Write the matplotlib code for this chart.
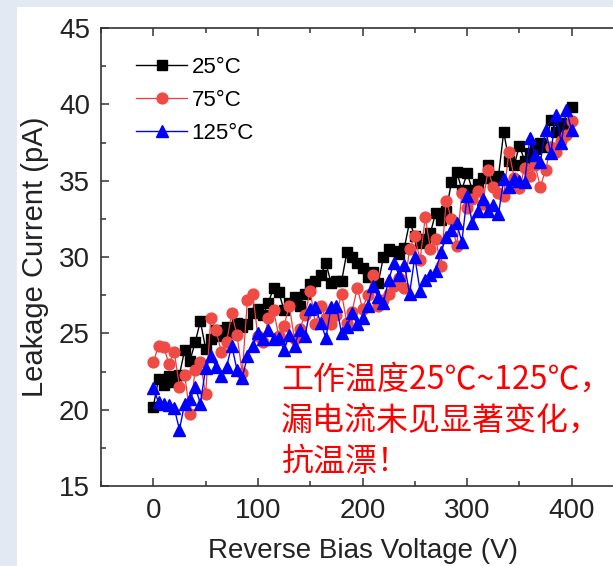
import numpy as np
import matplotlib
matplotlib.use("Agg")
import matplotlib.pyplot as plt
from matplotlib.patches import Rectangle
from matplotlib.ticker import MultipleLocator

# Reverse bias sweep (V), 5 V steps
voltage = list(range(0, 405, 5))

# Leakage current (pA) at each temperature
current_25c = [
    20.2, 22.0, 21.6, 22.2, 21.8, 22.3, 23.9, 23.2, 24.4, 25.8,
    24.0, 24.6, 25.2, 24.8, 25.4, 25.0, 25.7, 25.4, 25.6, 26.3,
    26.6, 26.2, 27.0, 28.0, 27.7, 26.5, 27.0, 27.4, 26.8, 27.6,
    28.2, 28.4, 28.8, 29.6, 28.3, 28.4, 28.4, 30.3, 30.0, 29.6,
    29.3, 28.7, 29.0, 28.3, 30.0, 30.5, 30.4, 30.2, 30.6, 32.3,
    31.4, 30.9, 31.2, 31.6, 32.9, 32.4, 33.0, 34.9, 35.6, 34.4,
    35.5, 34.4, 34.8, 35.2, 36.0, 35.0, 35.3, 38.2, 36.3, 36.0,
    37.3, 36.3, 36.8, 37.1, 37.5, 37.2, 39.0, 38.2, 38.8, 38.4,
    39.8,
]
current_75c = [
    23.1, 24.2, 24.1, 23.0, 23.8, 21.5, 22.3, 19.7, 22.6, 23.1,
    21.0, 26.0, 25.2, 23.8, 24.4, 26.3, 24.9, 22.4, 27.2, 27.6,
    24.8, 24.4, 26.0, 26.5, 24.8, 25.5, 26.8, 24.6, 25.3, 26.2,
    27.8, 25.6, 26.8, 26.0, 25.6, 26.2, 27.6, 25.7, 26.4, 28.0,
    26.6, 27.5, 28.8, 26.8, 27.2, 27.6, 28.1, 28.6, 28.0, 30.5,
    31.4, 29.8, 32.6, 30.5, 31.2, 29.4, 33.7, 32.5, 30.7, 34.2,
    33.2, 33.8, 34.3, 33.5, 35.7, 34.6, 34.2, 34.0, 36.9, 35.2,
    34.5, 35.8, 35.3, 36.0, 34.6, 35.7, 37.2, 36.9, 37.6, 38.0,
    38.9,
]
current_125c = [
    21.4, 20.5, 20.4, 20.3, 20.1, 18.7, 20.4, 20.7, 21.5, 20.4,
    22.7, 23.5, 22.8, 22.2, 22.8, 24.2, 22.6, 22.1, 23.5, 24.2,
    25.0, 24.6, 25.2, 24.6, 24.7, 23.9, 24.9, 24.2, 25.2, 24.8,
    26.6, 26.7, 25.7, 24.7, 26.7, 26.8, 25.0, 25.4, 26.3, 25.6,
    26.0, 26.8, 28.1, 27.4, 27.0, 28.5, 29.6, 28.8, 29.5, 27.6,
    30.0, 27.8, 28.5, 28.8, 29.1, 30.3, 31.3, 31.8, 32.2, 31.0,
    34.0, 32.2, 33.0, 33.8, 33.0, 33.4, 32.8, 35.1, 34.6, 35.1,
    35.0, 34.9, 37.8, 36.7, 36.2, 38.3, 36.8, 39.3, 37.5, 39.6,
    38.3,
]

series_labels = ["25\u00b0C", "75\u00b0C", "125\u00b0C"]
x_ticks = [0, 100, 200, 300, 400]
y_ticks = [15, 20, 25, 30, 35, 40, 45]
note_text = "工作温度25℃~125℃，\n漏电流未见显著变化，\n抗温漂！"

plt.rcParams["font.family"] = ["Liberation Sans", "DejaVu Sans"]

fig = plt.figure(figsize=(6.13, 5.66), dpi=100)
fig.patch.set_facecolor("#e3e9f2")
# white slide panel behind the chart
fig.patches.append(Rectangle((17 / 613, 0), 1.0, 1 - 7 / 566,
                             transform=fig.transFigure, facecolor="white",
                             edgecolor="none", zorder=-10))

ax = fig.add_axes([101 / 613, 80 / 566, 523 / 613, 458 / 566])
ax.set_zorder(1)
ax.set_facecolor("white")

styles = [
    dict(color="black", marker="s", markersize=7.2, mfc="black", mec="black", lw=1.0),
    dict(color="#ee3b3b", marker="o", markersize=7.8, mfc="#f04a45", mec="#f04a45", lw=0.9),
    dict(color="#0000ff", marker="^", markersize=8.2, mfc="#0000ff", mec="#0000ff", lw=1.0),
]
for ys, lab, st in zip([current_25c, current_75c, current_125c], series_labels, styles):
    ax.plot(voltage, ys, label=lab, **st)

ax.set_xlim(-50, 450)
ax.set_ylim(15, 45)
ax.set_xticks(x_ticks)
ax.set_yticks(y_ticks)
ax.xaxis.set_minor_locator(MultipleLocator(50))
ax.yaxis.set_minor_locator(MultipleLocator(2.5))
ax.tick_params(which="both", direction="in", top=True, right=True,
               width=1.1, color="#333333", labelsize=20, labelcolor="#222222")
ax.tick_params(which="major", length=6)
ax.tick_params(which="minor", length=3.5)
ax.tick_params(axis="x", which="major", pad=9)
ax.tick_params(axis="y", which="major", pad=8)
for sp in ax.spines.values():
    sp.set_linewidth(1.2)
    sp.set_color("#333333")

ax.set_xlabel("Reverse Bias Voltage (V)", fontsize=20, color="#222222", labelpad=10)
ax.set_ylabel("Leakage Current (pA)", fontsize=21, color="#222222", labelpad=7)

leg = ax.legend(loc="upper left", bbox_to_anchor=(0.05, 0.957), frameon=False,
                fontsize=16, handlelength=2.3, handletextpad=0.2,
                labelspacing=0.55, borderaxespad=0)

fig.text(281 / 613, 1 - 364 / 566, note_text, color="#ff0000", fontsize=23,
         family=["Noto Sans CJK SC", "DejaVu Sans"], va="top", ha="left",
         linespacing=1.36, zorder=5)

fig.savefig("out.png", dpi=100, facecolor=fig.get_facecolor())
